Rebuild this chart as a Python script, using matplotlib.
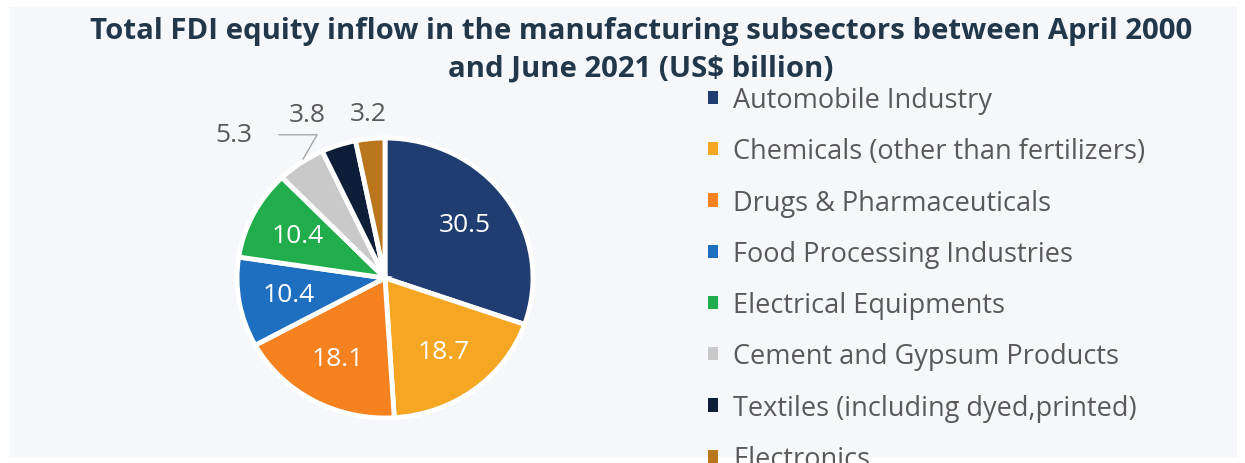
import matplotlib.pyplot as plt
from matplotlib.patches import Rectangle, Patch
import numpy as np

plt.rcParams['font.family'] = ['Open Sans', 'DejaVu Sans']

# data
sectors = ['Automobile Industry', 'Chemicals (other than fertilizers)',
           'Drugs & Pharmaceuticals', 'Food Processing Industries',
           'Electrical Equipments', 'Cement and Gypsum Products',
           'Textiles (including dyed,printed)', 'Electronics']
inflow = [30.5, 18.7, 18.1, 10.4, 10.4, 5.3, 3.8, 3.2]
colors = ['#1f3d70', '#f5a623', '#f5821f', '#1f6fc1', '#22ad4c',
          '#c9c9c9', '#0e1e38', '#b9761c']

W, H = 1245, 464
fig = plt.figure(figsize=(W / 100, H / 100), dpi=100)
fig.patch.set_facecolor('white')

# light panel behind everything
fig.add_artist(Rectangle((10 / W, 1 - 458 / H), 1227 / W, 450 / H,
                         transform=fig.transFigure, facecolor='#f5f7fb',
                         edgecolor='none', zorder=0))

fig.text(641 / W, 1 - 31 / H,
         'Total FDI equity inflow in the manufacturing subsectors between April 2000',
         ha='center', va='center', fontsize=21.2, fontweight='bold', color='#22384a')
fig.text(641 / W, 1 - 69 / H, 'and June 2021 (US$ billion)',
         ha='center', va='center', fontsize=21.2, fontweight='bold', color='#22384a')

# pie axes: centre (385, 278) px, radii 148 x 140 px (slightly stretched)
cx, cy, rx, ry = 385, 279, 148, 140
hx, hy = 1.2 * rx, 1.2 * ry
ax = fig.add_axes([(cx - hx) / W, (H - cy - hy) / H, 2 * hx / W, 2 * hy / H])
ax.patch.set_visible(False)
wedges, _ = ax.pie(inflow, colors=colors, startangle=90, counterclock=False,
                   wedgeprops=dict(edgecolor='white', linewidth=3.5))
ax.set_aspect('auto')
ax.set_xlim(-1.2, 1.2)
ax.set_ylim(-1.2, 1.2)

# pixel offsets (converted to points) for the small outside labels
outside = {5: (-67, 28), 6: (-31, 31), 7: (-2, 25)}
for i, (w, v) in enumerate(zip(wedges, inflow)):
    ang = np.deg2rad((w.theta1 + w.theta2) / 2)
    dx, dy = np.cos(ang), np.sin(ang)
    if v >= 10:
        ax.text(0.66 * dx, 0.66 * dy, f'{v}', ha='center', va='center',
                fontsize=19, color='white')
    else:
        ox, oy = outside[i]
        arrow = None
        if i == 5:
            arrow = dict(arrowstyle='-', color='#a6a6a6', lw=1,
                         connectionstyle='angle,angleA=0,angleB=60,rad=0',
                         shrinkA=17, shrinkB=3)
        ax.annotate(f'{v}', xy=(dx, dy), xytext=(ox * 0.72, oy * 0.72),
                    textcoords='offset points', ha='center', va='center',
                    fontsize=19, color='#595959', arrowprops=arrow)

handles = [Patch(facecolor=c, edgecolor='none') for c in colors]
fig.legend(handles, sectors, loc='upper left',
           bbox_to_anchor=(708 / W, 1 - 87 / H), frameon=False,
           fontsize=19.5, handlelength=0.38, handleheight=0.38, handletextpad=0.55,
           labelspacing=0.86, borderpad=0, borderaxespad=0, labelcolor='#595959')

fig.savefig('out.png', dpi=100, facecolor=fig.get_facecolor())
